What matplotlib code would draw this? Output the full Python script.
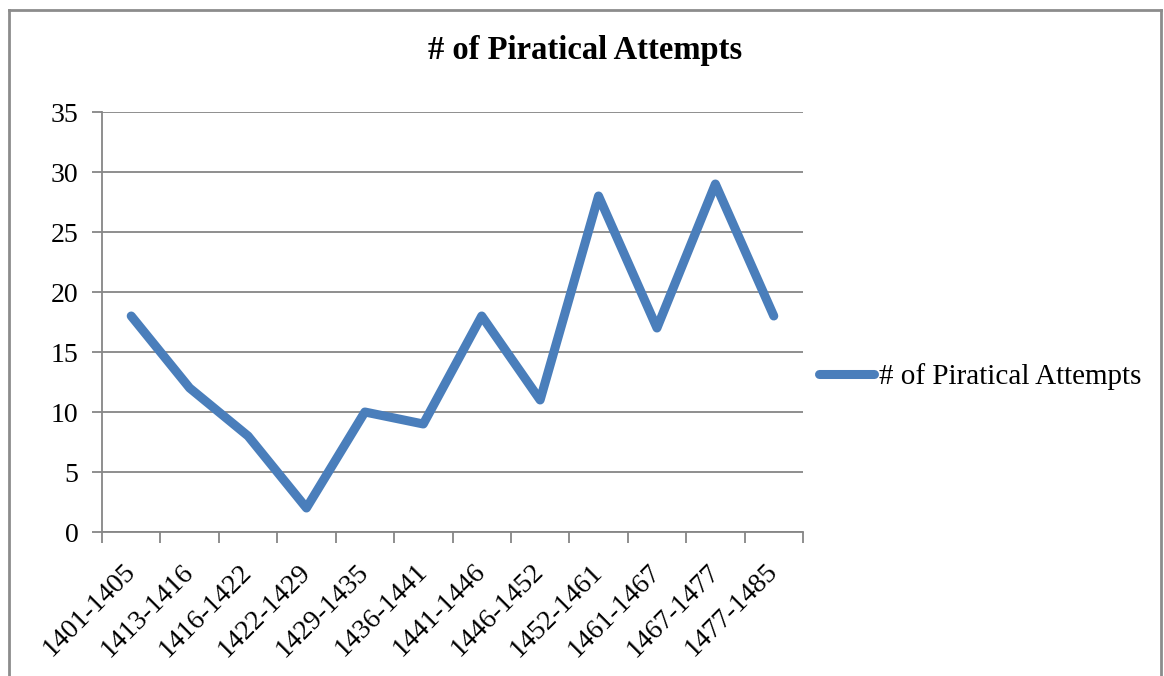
import matplotlib.pyplot as plt
from matplotlib.lines import Line2D

periods = ["1401-1405", "1413-1416", "1416-1422", "1422-1429", "1429-1435", "1436-1441",
           "1441-1446", "1446-1452", "1452-1461", "1461-1467", "1467-1477", "1477-1485"]
attempts = [18, 12, 8, 2, 10, 9, 18, 11, 28, 17, 29, 18]

plt.rcParams['font.family'] = ['Liberation Serif', 'DejaVu Serif']
blue = '#4a7ebb'
gray = '#868686'

fig = plt.figure(figsize=(11.64, 6.76), dpi=100)
ax = fig.add_axes([102 / 1164, 1 - 532 / 676, 701 / 1164, 420 / 676])

xs = list(range(len(periods)))
ax.plot(xs, attempts, color=blue, lw=6.5, solid_capstyle='round', solid_joinstyle='round',
        label="# of Piratical Attempts")

ax.set_xlim(-0.5, len(periods) - 0.5)
ax.set_ylim(0, 35)
ax.set_yticks(range(0, 36, 5))
ax.grid(axis='y', color=gray, lw=1.3)
ax.set_axisbelow(True)

ax.set_xticks([x - 0.5 for x in range(len(periods) + 1)])
ax.set_xticklabels([])
ax.set_xticks(xs, minor=True)
ax.set_xticklabels(periods, minor=True, rotation=45, ha='right', va='center',
                   rotation_mode='anchor', fontsize=20)
ax.tick_params(axis='x', which='minor', length=0, pad=26)
ax.tick_params(axis='x', which='major', length=8, width=1.3, color=gray)
ax.tick_params(axis='y', length=7, width=1.3, color=gray, labelsize=20, pad=10)

for s in ['top', 'right']:
    ax.spines[s].set_visible(False)
for s in ['left', 'bottom']:
    ax.spines[s].set_color(gray)
    ax.spines[s].set_linewidth(1.3)

fig.text(0.503, 1 - 50 / 676, "# of Piratical Attempts", ha='center', va='center',
         fontsize=23.5, fontweight='bold')

handle = Line2D([0], [0], color=blue, lw=6.5, solid_capstyle='round')
fig.legend([handle], ["# of Piratical Attempts"], loc='center left',
           bbox_to_anchor=(819 / 1164, 1 - 377 / 676), frameon=False, fontsize=21,
           handlelength=1.9, handletextpad=0.15, borderaxespad=0, borderpad=0)

# outer chart frame (bottom edge is cut off in the reference)
border = dict(color='#8c8c8c', lw=2, transform=fig.transFigure, clip_on=False)
fig.add_artist(Line2D([9 / 1164, 9 / 1164], [0, 1 - 10 / 676], **border))
fig.add_artist(Line2D([9 / 1164, 1161 / 1164], [1 - 10 / 676, 1 - 10 / 676], **border))
fig.add_artist(Line2D([1161 / 1164, 1161 / 1164], [0, 1 - 10 / 676], **border))

fig.savefig("out.png", dpi=100)
